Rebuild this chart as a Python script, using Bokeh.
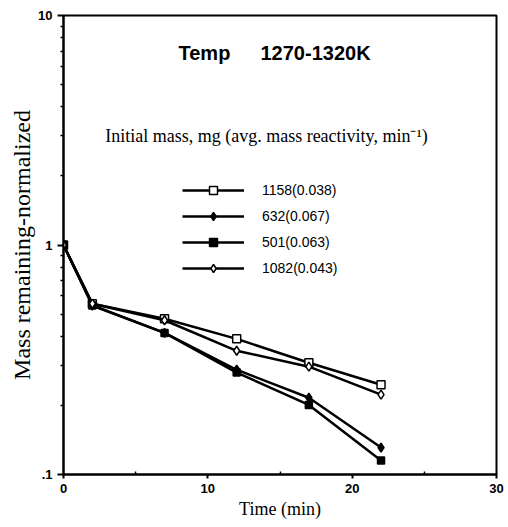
from bokeh.plotting import figure
from bokeh.models import Label, Legend, LegendItem, FixedTicker
from bokeh.embed import file_html
from bokeh.resources import INLINE

# ---- data ----
time_min = [0, 2, 7, 12, 17, 22]
m_1158 = [1.0, 0.555, 0.477, 0.390, 0.307, 0.246]
m_1082 = [1.0, 0.555, 0.470, 0.346, 0.295, 0.223]
m_632 = [1.0, 0.545, 0.414, 0.286, 0.216, 0.131]
m_501 = [1.0, 0.545, 0.414, 0.278, 0.201, 0.115]
series_labels = ["1158(0.038)", "632(0.067)", "501(0.063)", "1082(0.043)"]
x_ticks = [0, 10, 20, 30]
y_ticks = [0.1, 1, 10]
y_tick_labels = [".1", "1", "10"]
title_left = "Temp"
title_right = "1270-1320K"
legend_title = "Initial mass, mg (avg. mass reactivity, min\u207b\u00b9)"

p = figure(width=508, height=527, x_range=(0, 30), y_range=(0.1, 10),
           y_axis_type="log", output_backend="svg", toolbar_location=None,
           min_border_left=63, min_border_right=12, min_border_top=15,
           min_border_bottom=53)
p.grid.visible = False
p.outline_line_color = "black"
p.outline_line_width = 2
p.background_fill_color = "white"
p.border_fill_color = "white"

x_minor = [(a + b) / 2 for a, b in zip(x_ticks[:-1], x_ticks[1:])]
p.xaxis.ticker = FixedTicker(ticks=x_ticks, minor_ticks=x_minor)
y_minor = [k * t for t in y_ticks[:-1] for k in range(2, 10)]
p.yaxis.ticker = FixedTicker(ticks=y_ticks, minor_ticks=y_minor)
p.yaxis.major_label_overrides = {t: l for t, l in zip(y_ticks, y_tick_labels)}

for ax in (p.xaxis, p.yaxis):
    ax.axis_line_width = 2
    ax.major_tick_line_width = 2
    ax.minor_tick_line_width = 1.5
    ax.major_label_text_font = "Liberation Sans"
    ax.major_label_text_font_style = "bold"
    ax.major_label_text_font_size = "13px"
    ax.major_label_text_color = "black"
    ax.axis_label_text_font = "Liberation Serif"
    ax.axis_label_text_font_style = "normal"
    ax.axis_label_text_color = "black"

p.xaxis.axis_label = "Time (min)"
p.xaxis.axis_label_text_font_size = "18px"
p.xaxis.major_tick_out = 4
p.xaxis.major_tick_in = 0
p.xaxis.minor_tick_in = 3
p.xaxis.minor_tick_out = 0
p.xaxis.major_label_standoff = 5
p.xaxis.axis_label_standoff = 3

p.yaxis.axis_label = "Mass remaining-normalized"
p.yaxis.axis_label_text_font_size = "24px"
p.yaxis.major_tick_out = 6
p.yaxis.major_tick_in = 0
p.yaxis.minor_tick_out = 3
p.yaxis.minor_tick_in = 0
p.yaxis.major_label_standoff = 5
p.yaxis.axis_label_standoff = 0

styles = [
    (m_1158, "square", "white", 8),
    (m_632, "diamond", "black", 9),
    (m_501, "square", "black", 7),
    (m_1082, "diamond", "white", 9),
]
items = []
for (ys, marker, fill, size), lab in zip(styles, series_labels):
    lr = p.line(time_min, ys, line_color="black", line_width=2.5)
    sr = p.scatter(time_min, ys, marker=marker, size=size, fill_color=fill,
                   line_color="black", line_width=1.5)
    items.append(LegendItem(label=lab, renderers=[lr, sr]))

legend = Legend(items=items, location=(119, 196), glyph_width=62,
                glyph_height=20, spacing=6, label_standoff=18, padding=0,
                margin=0, border_line_color=None, background_fill_alpha=0,
                label_text_font="Liberation Sans", label_text_font_size="14px",
                label_text_color="black")
p.add_layout(legend)

p.add_layout(Label(x=115, y=422, x_units="screen", y_units="screen",
                   text=title_left, text_align="left", text_baseline="middle",
                   text_font="Liberation Sans", text_font_style="bold",
                   text_font_size="20px", text_color="black"))
p.add_layout(Label(x=197, y=422, x_units="screen", y_units="screen",
                   text=title_right, text_align="left", text_baseline="middle",
                   text_font="Liberation Sans", text_font_style="bold",
                   text_font_size="20px", text_color="black"))
p.add_layout(Label(x=203, y=339, x_units="screen", y_units="screen",
                   text=legend_title, text_align="center", text_baseline="middle",
                   text_font="Liberation Serif", text_font_size="18px",
                   text_color="black"))

open("out.html", "w").write(file_html(p, INLINE))
